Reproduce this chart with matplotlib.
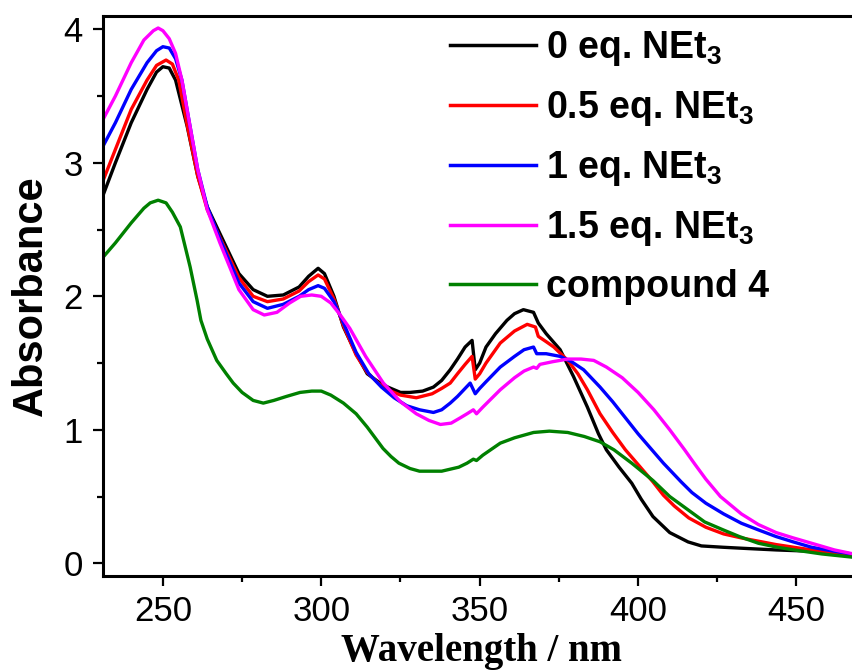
import matplotlib
matplotlib.use('Agg')
import matplotlib.pyplot as plt
from matplotlib.ticker import MultipleLocator

plt.rcParams['font.family'] = ['Liberation Sans', 'DejaVu Sans']
plt.rcParams['mathtext.fontset'] = 'custom'
plt.rcParams['mathtext.bf'] = 'Liberation Sans:bold'
plt.rcParams['mathtext.rm'] = 'Liberation Sans:bold'

# UV-vis spectra, wavelength (nm) / absorbance
wl_0 = [231, 235, 240, 245, 248, 250, 252, 254, 257.7, 261, 264, 268, 274, 278.5, 283, 288,
        293, 296, 299, 301, 304, 307, 311, 314.5, 318, 321, 325, 328, 332, 335.4, 338, 340.7,
        343, 345.4, 347.6, 348.6, 350, 352, 355, 358.6, 361, 363.8, 367, 368.5, 371, 375.4,
        379.6, 384, 387.5, 390, 394, 398, 401, 404.7, 410, 415.8, 420, 426.9, 435, 443.6,
        455, 470]
abs_0 = [2.75, 3.00, 3.30, 3.55, 3.68, 3.72, 3.71, 3.62, 3.27, 2.90, 2.67, 2.47, 2.17, 2.05, 2.00, 2.01,
         2.07, 2.15, 2.21, 2.17, 2.00, 1.77, 1.57, 1.42, 1.36, 1.32, 1.28, 1.28, 1.29, 1.32, 1.37, 1.45,
         1.53, 1.62, 1.67, 1.45, 1.50, 1.62, 1.72, 1.82, 1.87, 1.90, 1.88, 1.80, 1.72, 1.60,
         1.40, 1.17, 0.97, 0.85, 0.72, 0.60, 0.48, 0.35, 0.23, 0.16, 0.13, 0.12, 0.11, 0.10,
         0.09, 0.05]

wl_05 = [231, 235, 240, 245, 248, 251, 253, 255, 257.7, 261, 264, 268, 274, 278.5, 283, 288,
         293, 296, 299, 301, 304, 307, 311, 314.5, 318, 321, 325, 330, 335, 338, 340.7, 343,
         345.4, 347.6, 348.6, 350, 352, 356.5, 361, 365, 367.6, 368.5, 371, 373.4, 377.8, 381,
         384, 388, 392, 396, 400, 404.7, 408, 411.4, 416, 421.4, 427, 432.6, 443.6, 454.8, 470]
abs_05 = [2.86, 3.10, 3.40, 3.62, 3.73, 3.77, 3.74, 3.62, 3.28, 2.90, 2.65, 2.44, 2.14, 2.00, 1.96, 1.98,
          2.04, 2.11, 2.16, 2.13, 1.98, 1.78, 1.56, 1.43, 1.35, 1.30, 1.26, 1.24, 1.27, 1.31, 1.35, 1.42,
          1.49, 1.55, 1.38, 1.42, 1.50, 1.65, 1.74, 1.79, 1.77, 1.70, 1.66, 1.62, 1.52, 1.42,
          1.30, 1.12, 0.98, 0.85, 0.74, 0.61, 0.51, 0.43, 0.34, 0.27, 0.22, 0.19, 0.14, 0.10, 0.05]

wl_1 = [231, 235, 240, 245, 248, 250, 252, 254, 256, 258, 261, 264, 268, 274, 278.5, 283, 288,
        293, 296, 299, 301, 304, 307, 311, 315, 319, 323, 327, 331, 335.4, 338, 340.7, 343, 345,
        347, 348.6, 350, 352, 356.5, 361, 364, 367, 368, 371, 375.4, 379, 382.8, 388, 392, 396,
        400, 404, 408, 413.6, 417, 421.4, 427, 432.6, 438, 443.6, 449, 454.8, 462, 470]
abs_1 = [3.12, 3.30, 3.55, 3.75, 3.84, 3.87, 3.86, 3.78, 3.62, 3.35, 2.95, 2.67, 2.43, 2.10, 1.96, 1.91, 1.94,
         2.00, 2.05, 2.08, 2.06, 1.96, 1.80, 1.58, 1.42, 1.32, 1.24, 1.18, 1.15, 1.13, 1.15, 1.20, 1.25, 1.30,
         1.35, 1.27, 1.31, 1.36, 1.47, 1.55, 1.60, 1.62, 1.57, 1.57, 1.55, 1.51, 1.45, 1.32, 1.21, 1.09,
         0.97, 0.86, 0.75, 0.61, 0.53, 0.45, 0.37, 0.30, 0.25, 0.20, 0.16, 0.12, 0.09, 0.06]

wl_15 = [231, 235, 240, 244, 247, 248.5, 250, 252, 254, 256, 258, 261, 264, 268, 274, 278.5, 282,
         286, 290, 293.5, 297, 300, 303, 306, 309, 314, 319.6, 325, 330, 334, 337.6, 341, 343.9,
         346, 348, 349, 351, 356.5, 361, 364, 367, 368, 369, 373, 377.8, 382, 386, 390, 395, 400,
         405, 410, 414.7, 418, 421.4, 426, 432.6, 438, 443.6, 449, 454.8, 462, 470]
abs_15 = [3.32, 3.50, 3.75, 3.92, 3.99, 4.01, 3.99, 3.93, 3.82, 3.62, 3.35, 2.95, 2.65, 2.40, 2.05, 1.90, 1.86,
          1.88, 1.95, 2.00, 2.01, 2.00, 1.95, 1.86, 1.76, 1.55, 1.35, 1.21, 1.12, 1.07, 1.04, 1.05, 1.09,
          1.12, 1.15, 1.12, 1.17, 1.30, 1.39, 1.44, 1.47, 1.46, 1.49, 1.51, 1.53, 1.53, 1.52, 1.47, 1.39, 1.28,
          1.15, 1.00, 0.85, 0.74, 0.63, 0.50, 0.37, 0.29, 0.23, 0.19, 0.15, 0.10, 0.06]

wl_c4 = [231, 235, 240, 244, 246, 248.5, 251, 253, 255.5, 258.6, 260.8, 262, 264, 267, 270, 272.2,
         275, 278.5, 281.7, 285, 289, 293.3, 297, 300, 303, 307, 311, 314.5, 317, 319.5, 322, 324.5,
         328, 331, 334.5, 338, 343.4, 346, 348, 349, 351, 356.5, 361, 367, 372, 377.8, 383, 388,
         392.4, 398, 404.7, 410, 415.8, 421, 426.9, 432, 438, 444, 449.3, 458, 470]
abs_c4 = [2.29, 2.40, 2.55, 2.66, 2.70, 2.72, 2.70, 2.63, 2.52, 2.22, 1.97, 1.82, 1.68, 1.52, 1.42, 1.35,
          1.28, 1.22, 1.20, 1.22, 1.25, 1.28, 1.29, 1.29, 1.26, 1.20, 1.12, 1.02, 0.94, 0.86, 0.80, 0.75,
          0.71, 0.69, 0.69, 0.69, 0.72, 0.75, 0.78, 0.77, 0.81, 0.90, 0.94, 0.98, 0.99, 0.98, 0.95, 0.91,
          0.85, 0.75, 0.62, 0.50, 0.40, 0.31, 0.25, 0.20, 0.15, 0.12, 0.10, 0.07, 0.04]

labels = [r'0 eq. NEt$_\mathbf{3}$', r'0.5 eq. NEt$_\mathbf{3}$', r'1 eq. NEt$_\mathbf{3}$',
          r'1.5 eq. NEt$_\mathbf{3}$', 'compound 4']
colors = ['black', '#ff0000', '#0000ff', '#ff00ff', '#008000']

fig = plt.figure(figsize=(8.53, 6.72), dpi=100)
ax = fig.add_axes([0.1204, 0.1429, 0.8876, 0.8333])

series = [(wl_0, abs_0), (wl_05, abs_05), (wl_1, abs_1), (wl_15, abs_15), (wl_c4, abs_c4)]
for (x, y), lab, c in zip(series, labels, colors):
    ax.plot(x, y, color=c, lw=2.4, label=lab)

ax.set_xlim(231, 470)
ax.set_ylim(-0.095, 4.1)
ax.xaxis.set_major_locator(MultipleLocator(50))
ax.xaxis.set_minor_locator(MultipleLocator(25))
ax.yaxis.set_major_locator(MultipleLocator(1))
ax.yaxis.set_minor_locator(MultipleLocator(0.5))
ax.tick_params(which='major', direction='out', length=7.5, width=1.6, labelsize=25, pad=6)
ax.tick_params(which='minor', direction='out', length=4.5, width=1.6)
ax.tick_params(axis='y', pad=7)
for s in ax.spines.values():
    s.set_linewidth(2.2)

ax.set_ylabel('Absorbance', fontsize=30, fontweight='bold')
ax.yaxis.set_label_coords(-0.068, 0.5)
ax.set_xlabel('Wavelength / nm', fontsize=28, fontweight='bold', family='Liberation Serif')
ax.xaxis.set_label_coords(0.5, -0.102)

leg = ax.legend(loc='upper left', bbox_to_anchor=(450 / 853, 1 - 29 / 672),
                bbox_transform=fig.transFigure, frameon=False, borderpad=0,
                borderaxespad=0, handlelength=2.3, handletextpad=0.27, labelspacing=0.56,
                prop={'family': 'Liberation Sans', 'weight': 'bold', 'size': 27})
for line in leg.get_lines():
    line.set_linewidth(2.5)

fig.savefig('out.png', dpi=100)
